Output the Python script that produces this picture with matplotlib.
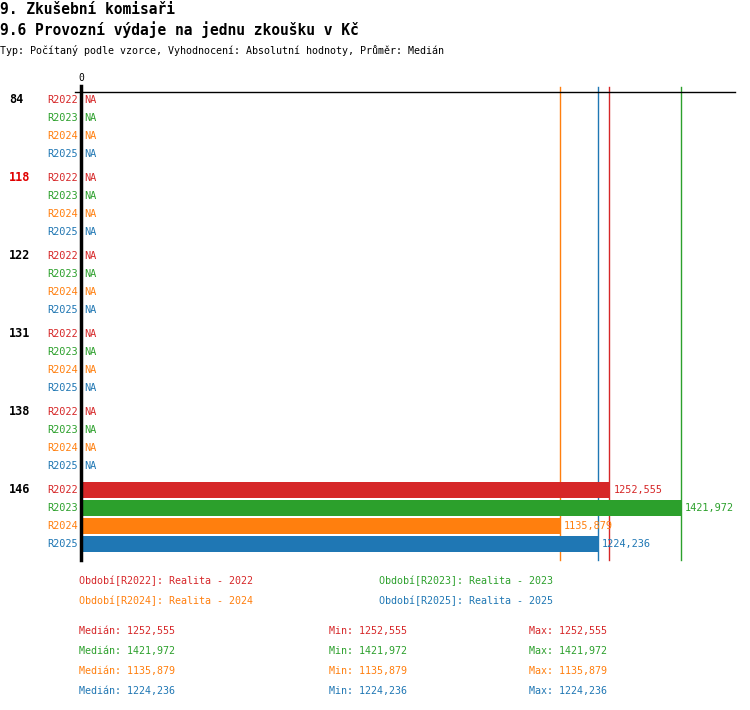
import numpy as np
import matplotlib
matplotlib.use('Agg')
import matplotlib.pyplot as plt

MONO = 'DejaVu Sans Mono'

groups = ['84', '118', '122', '131', '138', '146']
group_colors = ['black', '#e00000', 'black', 'black', 'black', 'black']
series = ['R2022', 'R2023', 'R2024', 'R2025']
colors = ['#d62728', '#2ca02c', '#ff7f0e', '#1f77b4']
# values per series, one per group (nan = NA)
v2022 = [np.nan, np.nan, np.nan, np.nan, np.nan, 1252.555]
v2023 = [np.nan, np.nan, np.nan, np.nan, np.nan, 1421.972]
v2024 = [np.nan, np.nan, np.nan, np.nan, np.nan, 1135.879]
v2025 = [np.nan, np.nan, np.nan, np.nan, np.nan, 1224.236]
values = [v2022, v2023, v2024, v2025]
legend_names = ['Realita - 2022', 'Realita - 2023', 'Realita - 2024', 'Realita - 2025']


def fmt(v):
    return f'{v:.3f}'.replace('.', ',')


W, H = 750, 710
fig = plt.figure(figsize=(W / 100, H / 100), dpi=100)


def px(x, y):
    return x / W, 1 - y / H


# header
fig.text(*px(0, 9), '9. Zkušební komisaři', family=MONO, fontsize=10.5,
         fontweight='semibold', va='center', ha='left')
fig.text(*px(0, 30), '9.6 Provozní výdaje na jednu zkoušku v Kč', family=MONO,
         fontsize=10.5, fontweight='semibold', va='center', ha='left')
fig.text(*px(0, 50), 'Typ: Počítaný podle vzorce, Vyhodnocení: Absolutní hodnoty, Průměr: Medián',
         family=MONO, fontsize=7.2, va='center', ha='left')

ax_l, ax_r, ax_t, ax_b = 81, 735, 92, 560
ax = fig.add_axes([ax_l / W, 1 - ax_b / H, (ax_r - ax_l) / W, (ax_b - ax_t) / H])
pitch = 4 + 1 / 3
last = (len(groups) - 1) * pitch + 3
ax.set_ylim(last + 0.889, -0.444)
ax.set_xlim(0, 1550)
for s in ['right', 'bottom']:
    ax.spines[s].set_visible(False)
ax.spines['top'].set_linewidth(1)
ax.spines['left'].set_linewidth(2.5)
ax.spines['left'].set_bounds(last + 0.889, -0.75)
ax.plot([-0.009, 0], [1, 1], transform=ax.transAxes, color='black', lw=1, clip_on=False)
ax.set_xticks([])
ax.set_yticks([])
ax.text(0, -1.2, '0', family=MONO, fontsize=7, ha='center', va='center')

for gi, g in enumerate(groups):
    y0 = gi * pitch
    ax.text(-72 / 0.4219, y0, g, family=MONO, fontsize=8.5, fontweight='bold',
            color=group_colors[gi], ha='left', va='center')
    for si, s in enumerate(series):
        y = y0 + si
        ax.text(-3 / 0.4219, y, s, family=MONO, fontsize=7.4, color=colors[si],
                ha='right', va='center')
        v = values[si][gi]
        if np.isnan(v):
            ax.text(3 / 0.4219, y, 'NA', family=MONO, fontsize=7.4, color=colors[si],
                    ha='left', va='center')
        else:
            ax.barh(y, v, height=0.9, color=colors[si], zorder=2)
            ax.text(v + 4 / 0.4219, y, fmt(v), family=MONO, fontsize=7.4,
                    color=colors[si], ha='left', va='center')

# median lines (behind the bars)
for si in range(len(series)):
    vals = np.array(values[si], dtype=float)
    med = np.nanmedian(vals)
    ax.axvline(med, ymin=0, ymax=1.011, color=colors[si], lw=1, clip_on=False, zorder=1)

# legend
leg_pos = [(79, 581), (379, 581), (79, 601), (379, 601)]
for si, s in enumerate(series):
    fig.text(*px(*leg_pos[si]), f'Období[{s}]: {legend_names[si]}', family=MONO,
             fontsize=7.2, color=colors[si], ha='left', va='center')

# stats
for si in range(len(series)):
    vals = np.array(values[si], dtype=float)
    y = 631 + si * 20
    fig.text(*px(79, y), f'Medián: {fmt(np.nanmedian(vals))}', family=MONO,
             fontsize=7.2, color=colors[si], ha='left', va='center')
    fig.text(*px(329, y), f'Min: {fmt(np.nanmin(vals))}', family=MONO,
             fontsize=7.2, color=colors[si], ha='left', va='center')
    fig.text(*px(529, y), f'Max: {fmt(np.nanmax(vals))}', family=MONO,
             fontsize=7.2, color=colors[si], ha='left', va='center')

fig.savefig('out.png', dpi=100)
